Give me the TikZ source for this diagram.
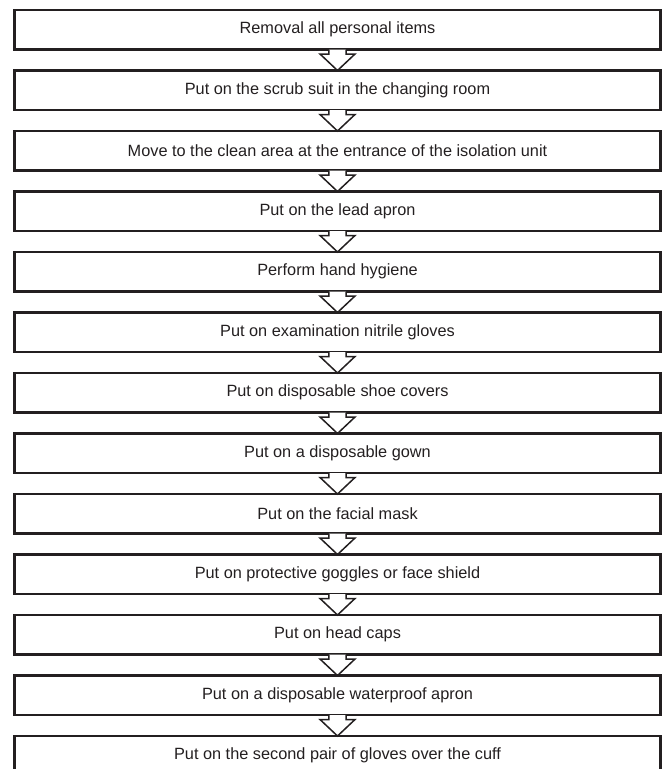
\documentclass[tikz,border=0pt]{standalone}
\usepackage{fontspec}
\setmainfont{Liberation Sans}
\usetikzlibrary{calc}
\definecolor{ink}{HTML}{231F20}
\tikzset{
  stepbox/.style={draw=ink, line width=2.3pt, rectangle, minimum width=646pt, minimum height=39.5pt,
    inner sep=0pt, outer sep=0pt, text=ink, font=\fontsize{16.3}{19}\selectfont, anchor=center},
  blockarr/.style={draw=ink, fill=white, line width=1.5pt, line join=miter},
}
\newcommand{\blockarrow}[2]{%
  \draw[blockarr] ($(#1.south)+(-8.7,0)$) -- ++(0,-4.5) -- ++(-8.8,0) -- (#2.north)
    -- ($(#1.south)+(17.5,-4.5)$) -- ++(-8.8,0) -- ++(0,4.5);}
\begin{document}
\begin{tikzpicture}[x=1pt,y=1pt]
\useasboundingbox (0,0) rectangle (662,-769);
\clip (0,0) rectangle (662,-769);
\foreach \i/\t in {0/Removal all personal items,
  1/Put on the scrub suit in the changing room,
  2/Move to the clean area at the entrance of the isolation unit,
  3/Put on the lead apron,
  4/Perform hand hygiene,
  5/Put on examination nitrile gloves,
  6/Put on disposable shoe covers,
  7/Put on a disposable gown,
  8/Put on the facial mask,
  9/Put on protective goggles or face shield,
  10/Put on head caps,
  11/Put on a disposable waterproof apron,
  12/Put on the second pair of gloves over the cuff}{
  \node[stepbox] (s\i) at (337.5,{-29.75-60.5*\i}) {\t};
}
\foreach \i [evaluate=\i as \j using int(\i+1)] in {0,...,11}{
  \blockarrow{s\i}{s\j}
}
\end{tikzpicture}
\end{document}
